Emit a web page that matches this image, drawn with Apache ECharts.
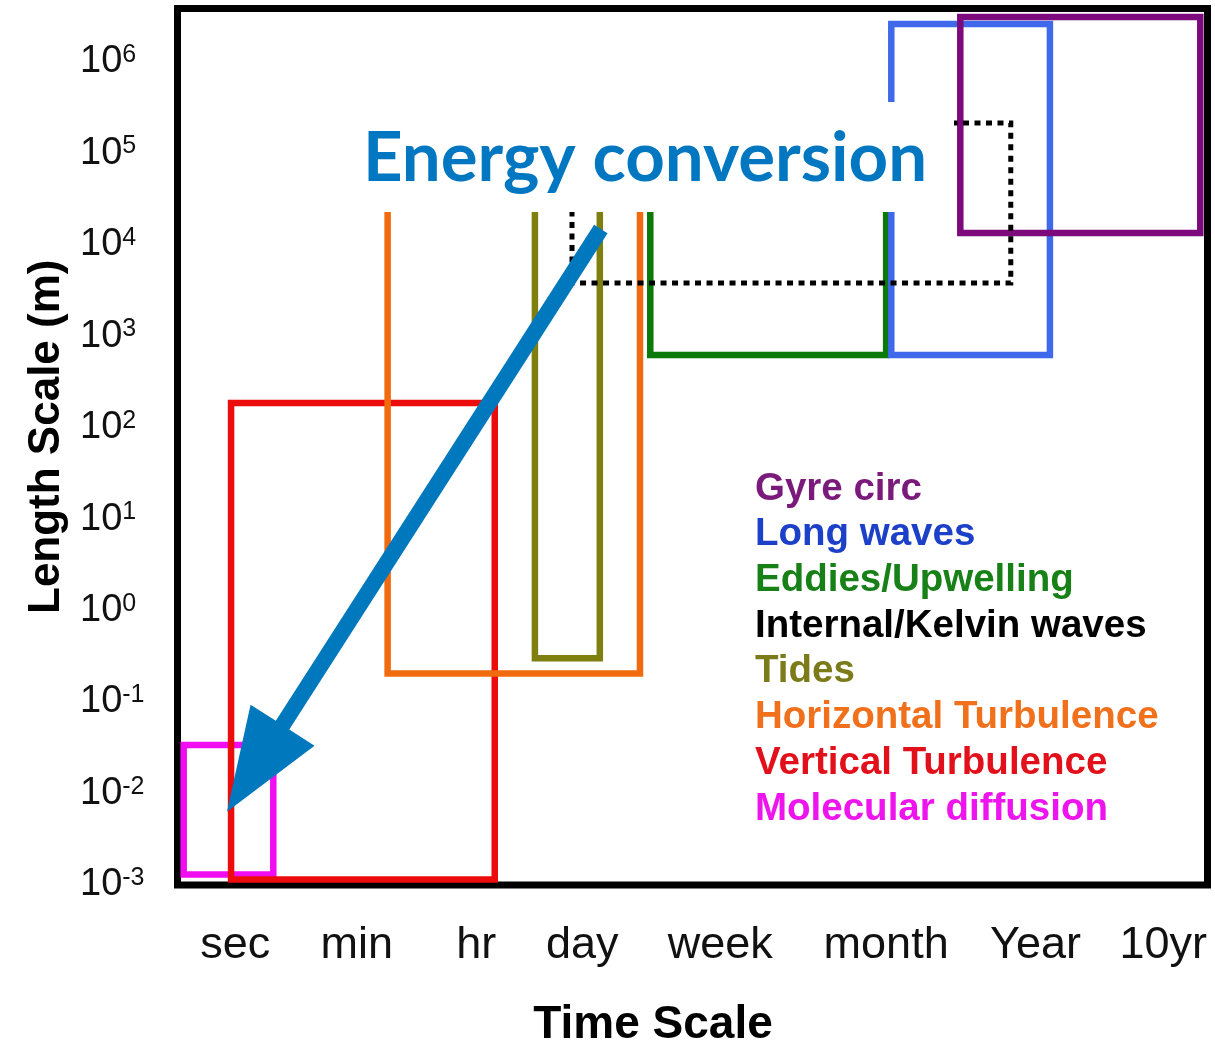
<!DOCTYPE html>
<html><head><meta charset="utf-8">
<script src="https://cdn.jsdelivr.net/npm/echarts@6/dist/echarts.min.js"></script>
<style>html,body{margin:0;padding:0;background:#fff;}#main{width:1215px;height:1043px;}</style>
</head><body><div id="main"></div>
<script>
// ---- tick labels ----
const timeLabels  = ['sec', 'min', 'hr', 'day', 'week', 'month', 'Year', '10yr'];
const timeTickPos = [0.56, 1.74, 2.90, 3.93, 5.27, 6.88, 8.33, 9.57];   // position on the time-scale axis
const lengthAxisMin = 1e-3;
const lengthAxisMax = 3.8e6;

// ---- processes (legend order) ----
const processNames = ['Gyre circ', 'Long waves', 'Eddies/Upwelling', 'Internal/Kelvin waves',
                      'Tides', 'Horizontal Turbulence', 'Vertical Turbulence', 'Molecular diffusion'];
const timeStart = [7.60, 6.93, 4.59, 3.83, 3.47, 2.04, 0.52, 0.06];
const timeEnd   = [9.93, 8.47, 6.88, 8.09, 4.10, 4.49, 3.08, 0.93];
const lengthMin = [1.34e4, 620, 620, 3.8e3, 0.30, 0.205, 1.15e-3, 1.3e-3];   // m
const lengthMax = [3.06e6, 2.57e6, 1e5, 2.13e5, 1e5, 1e5, 185, 0.034];       // m
const boxColors   = ['#7d0a7d', '#3f69ea', '#0b7a0b', '#000000', '#7f7f10', '#f26a0e', '#ec0c0c', '#f20cf2'];
const labelColors = ['#7a1a7a', '#1c40c8', '#178017', '#000000', '#7b7b19', '#f0701c', '#e2101a', '#ee14ee'];
const dashed      = [false, false, false, true, false, false, false, false];
const drawOrder   = [7, 6, 5, 4, 2, 1, 0, 3];

// ---- annotation arrow (time-axis position, length in m) ----
const arrowFrom = [4.11, 1.48e4];
const arrowTo   = [0.48, 6.3e-3];
const annotationText = 'Energy conversion';

const chart = echarts.init(document.getElementById('main'), null, {renderer: 'canvas'});

const series = drawOrder.map(i => ({
  name: processNames[i],
  type: 'custom',
  clip: false,
  color: boxColors[i],
  encode: {x: [0, 1], y: [2, 3]},
  data: [[timeStart[i], timeEnd[i], lengthMin[i], lengthMax[i]]],
  renderItem: (params, api) => {
    const p0 = api.coord([api.value(0), api.value(3)]);
    const p1 = api.coord([api.value(1), api.value(2)]);
    return {
      type: 'rect',
      shape: {x: p0[0], y: p0[1], width: p1[0] - p0[0], height: p1[1] - p0[1]},
      style: {fill: 'none', stroke: boxColors[i], lineWidth: dashed[i] ? 5 : 6.5,
              lineDash: dashed[i] ? [6, 5.5] : null}
    };
  }
}));

series.push({
  name: 'arrow',
  type: 'custom',
  clip: false,
  z: 10,
  encode: {x: [0, 2], y: [1, 3]},
  data: [[arrowFrom[0], arrowFrom[1], arrowTo[0], arrowTo[1]]],
  renderItem: (params, api) => {
    const a = api.coord([api.value(0), api.value(1)]);
    const b = api.coord([api.value(2), api.value(3)]);
    const dx = b[0] - a[0], dy = b[1] - a[1];
    const L = Math.hypot(dx, dy);
    const ux = dx / L, uy = dy / L, px = -uy, py = ux;
    const headLen = 103, headHalf = 38, shaftHalf = 8;
    const bx = b[0] - ux * headLen, by = b[1] - uy * headLen;
    const pts = [
      [a[0] + px * shaftHalf, a[1] + py * shaftHalf],
      [bx + px * shaftHalf, by + py * shaftHalf],
      [bx + px * headHalf, by + py * headHalf],
      [b[0], b[1]],
      [bx - px * headHalf, by - py * headHalf],
      [bx - px * shaftHalf, by - py * shaftHalf],
      [a[0] - px * shaftHalf, a[1] - py * shaftHalf]
    ];
    return {type: 'polygon', shape: {points: pts}, style: {fill: '#0078be'}};
  }
});

const option = {
  backgroundColor: '#ffffff',
  animation: false,
  grid: {left: 177.5, top: 8.5, width: 1030, height: 876.5, show: true, containLabel: false,
         outerBoundsMode: 'none',
         borderColor: '#000', borderWidth: 7, backgroundColor: '#fff'},
  xAxis: {
    type: 'value', min: 0, max: 10,
    name: 'Time Scale', nameLocation: 'middle', nameGap: 117,
    nameTextStyle: {fontFamily: 'Liberation Sans', fontWeight: 'bold', fontSize: 46, color: '#000', padding: [0, 79, 0, 0]},
    axisLine: {show: false}, axisTick: {show: false}, splitLine: {show: false},
    axisLabel: {
      customValues: timeTickPos,
      formatter: (v) => { const k = timeTickPos.indexOf(v); return k >= 0 ? timeLabels[k] : ''; },
      fontFamily: 'Liberation Sans', fontSize: 45, color: '#111', margin: 38
    }
  },
  yAxis: {
    type: 'log', min: lengthAxisMin, max: lengthAxisMax, logBase: 10, splitNumber: 10,
    name: 'Length Scale (m)', nameLocation: 'middle', nameGap: 105, nameRotate: 90,
    nameTextStyle: {fontFamily: 'Liberation Sans', fontWeight: 'bold', fontSize: 44, color: '#000', padding: [0, 0, 0, 20]},
    axisLine: {show: false}, axisTick: {show: false}, splitLine: {show: false},
    axisLabel: {
      showMaxLabel: false,
      align: 'left',
      margin: 97.5,
      formatter: (v) => {
        const e = Math.log10(v), r = Math.round(e);
        if (Math.abs(e - r) > 1e-6) return '';
        return '{b|10}{s|' + r + '}';
      },
      rich: {
        b: {fontFamily: 'Liberation Sans', fontSize: 38, lineHeight: 38, color: '#111'},
        s: {fontFamily: 'Liberation Sans', fontSize: 25, lineHeight: 22, verticalAlign: 'top', color: '#111'}
      }
    }
  },
  legend: {
    orient: 'vertical', left: 745, top: 464, icon: 'none', itemWidth: 0, itemHeight: 40, itemGap: 5.7,
    selectedMode: false,
    textStyle: {fontFamily: 'Liberation Sans', fontWeight: 'bold', fontSize: 38.5, lineHeight: 40},
    data: processNames.map((n, i) => ({name: n, textStyle: {color: labelColors[i]}}))
  },
  graphic: [
    {type: 'rect', z: 100, shape: {x: 360, y: 102, width: 594, height: 110}, style: {fill: '#fff'}},
    {type: 'text', z: 101, x: 645, y: 159,
     style: {text: annotationText, fill: '#0077c0', font: 'bold 69px Lato', align: 'center', verticalAlign: 'middle'}}
  ],
  series: series
};
chart.setOption(option);
</script></body></html>
